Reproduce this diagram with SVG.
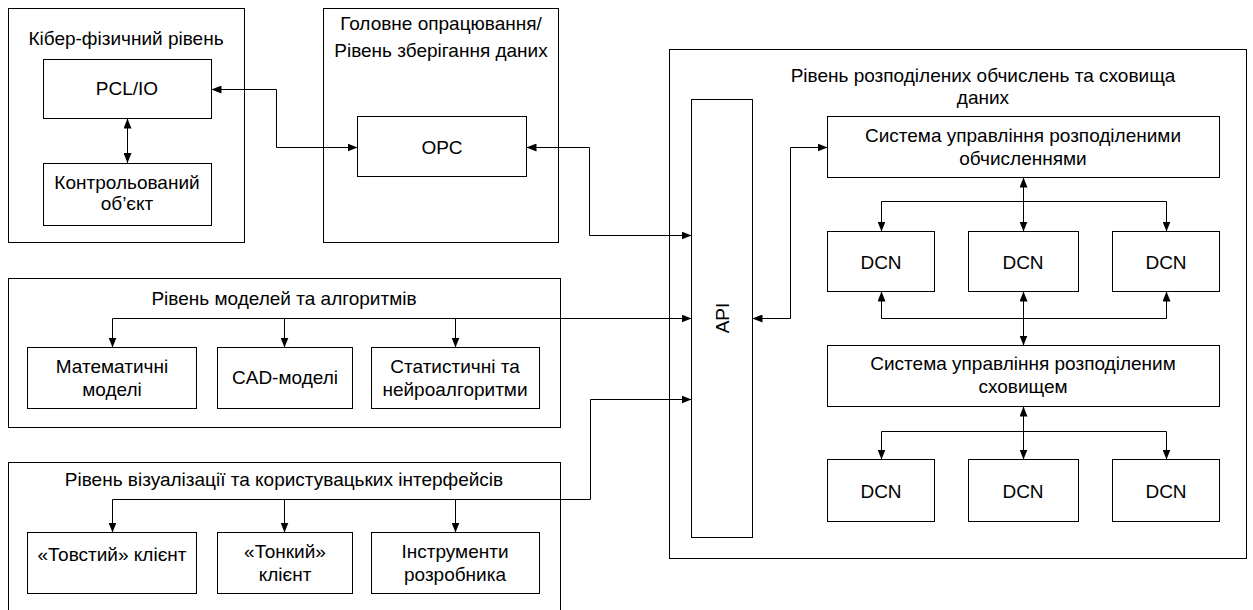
<svg xmlns="http://www.w3.org/2000/svg" width="1253" height="610" viewBox="0 0 1253 610">
  <style>
    .box { fill: #ffffff; stroke: #000000; stroke-width: 1; }
    .lbl { font-family: "Liberation Sans", Arial, sans-serif; font-size: 19px; fill: #000000; text-anchor: middle; }
    .wire { fill: none; stroke: #000000; stroke-width: 1; }
    .dbl { marker-start: url(#ah); marker-end: url(#ah); }
    .one { marker-end: url(#ah); }
  </style>
  <defs>
    <marker id="ah" markerUnits="userSpaceOnUse" markerWidth="10" markerHeight="8" refX="10" refY="4" orient="auto-start-reverse">
      <path d="M0,0 L10,4 L0,8 z" fill="#000000"/>
    </marker>
  </defs>
  <rect width="1253" height="610" fill="#ffffff"/>

  <!-- Cyber-physical layer -->
  <g id="cyber-physical-layer">
    <rect class="box" x="8.5" y="8.5" width="236" height="234"/>
    <text class="lbl" x="126" y="45">Кібер-фізичний рівень</text>
  </g>
  <g id="pcl-io">
    <rect class="box" x="43.5" y="59.5" width="168" height="59"/>
    <text class="lbl" x="127" y="95">PCL/IO</text>
  </g>
  <g id="controlled-object">
    <rect class="box" x="43.5" y="163.5" width="168" height="62"/>
    <text class="lbl" x="127" y="189">Контрольований</text>
    <text class="lbl" x="127" y="210">об’єкт</text>
  </g>

  <!-- Main processing / data storage layer -->
  <g id="processing-layer">
    <rect class="box" x="323.5" y="8.5" width="235" height="234"/>
    <text class="lbl" x="441" y="30">Головне опрацювання/</text>
    <text class="lbl" x="441" y="57">Рівень зберігання даних</text>
  </g>
  <g id="opc">
    <rect class="box" x="357.5" y="116.5" width="169" height="60"/>
    <text class="lbl" x="442" y="154">OPC</text>
  </g>

  <!-- Distributed computing and storage layer -->
  <g id="distributed-layer">
    <rect class="box" x="669.5" y="49.5" width="577" height="509"/>
    <text class="lbl" x="983" y="82">Рівень розподілених обчислень та сховища</text>
    <text class="lbl" x="983" y="104">даних</text>
  </g>
  <g id="api">
    <rect class="box" x="691.5" y="99.5" width="61" height="438"/>
    <text class="lbl" transform="translate(729 318) rotate(-90)" x="0" y="0">API</text>
  </g>
  <g id="compute-manager">
    <rect class="box" x="827.5" y="116.5" width="392" height="61"/>
    <text class="lbl" x="1023" y="142">Система управління розподіленими</text>
    <text class="lbl" x="1023" y="165">обчисленнями</text>
  </g>
  <g id="dcn-1">
    <rect class="box" x="827.5" y="231.5" width="107" height="60"/>
    <text class="lbl" x="881" y="269">DCN</text>
  </g>
  <g id="dcn-2">
    <rect class="box" x="968.5" y="231.5" width="110" height="60"/>
    <text class="lbl" x="1023" y="269">DCN</text>
  </g>
  <g id="dcn-3">
    <rect class="box" x="1112.5" y="231.5" width="107" height="60"/>
    <text class="lbl" x="1166" y="269">DCN</text>
  </g>
  <g id="storage-manager">
    <rect class="box" x="827.5" y="345.5" width="392" height="61"/>
    <text class="lbl" x="1023" y="370">Система управління розподіленим</text>
    <text class="lbl" x="1023" y="393">сховищем</text>
  </g>
  <g id="dcn-4">
    <rect class="box" x="827.5" y="459.5" width="107" height="62"/>
    <text class="lbl" x="881" y="498">DCN</text>
  </g>
  <g id="dcn-5">
    <rect class="box" x="968.5" y="459.5" width="110" height="62"/>
    <text class="lbl" x="1023" y="498">DCN</text>
  </g>
  <g id="dcn-6">
    <rect class="box" x="1112.5" y="459.5" width="107" height="62"/>
    <text class="lbl" x="1166" y="498">DCN</text>
  </g>

  <!-- Models and algorithms layer -->
  <g id="models-layer">
    <rect class="box" x="8.5" y="278.5" width="552" height="149"/>
    <text class="lbl" x="284" y="305">Рівень моделей та алгоритмів</text>
  </g>
  <g id="math-models">
    <rect class="box" x="27.5" y="347.5" width="169" height="61"/>
    <text class="lbl" x="112" y="373">Математичні</text>
    <text class="lbl" x="112" y="396">моделі</text>
  </g>
  <g id="cad-models">
    <rect class="box" x="217.5" y="347.5" width="135" height="61"/>
    <text class="lbl" x="285" y="384">CAD-моделі</text>
  </g>
  <g id="stat-algorithms">
    <rect class="box" x="371.5" y="347.5" width="168" height="61"/>
    <text class="lbl" x="455" y="373">Статистичні та</text>
    <text class="lbl" x="455" y="396">нейроалгоритми</text>
  </g>

  <!-- Visualisation and user interface layer -->
  <g id="ui-layer">
    <rect class="box" x="8.5" y="462.5" width="552" height="160"/>
    <text class="lbl" x="284" y="486">Рівень візуалізації та користувацьких інтерфейсів</text>
  </g>
  <g id="thick-client">
    <rect class="box" x="27.5" y="532.5" width="169" height="61"/>
    <text class="lbl" x="112" y="561">«Товстий» клієнт</text>
  </g>
  <g id="thin-client">
    <rect class="box" x="217.5" y="532.5" width="135" height="61"/>
    <text class="lbl" x="285" y="558">«Тонкий»</text>
    <text class="lbl" x="285" y="581">клієнт</text>
  </g>
  <g id="dev-tools">
    <rect class="box" x="371.5" y="532.5" width="168" height="61"/>
    <text class="lbl" x="455" y="558">Інструменти</text>
    <text class="lbl" x="455" y="581">розробника</text>
  </g>

  <!-- Connectors -->
  <g id="connectors">
    <path class="wire dbl" d="M127.5,118.5 V163"/>
    <path class="wire dbl" d="M211.5,89.5 H276.5 V147.5 H357.5"/>
    <path class="wire dbl" d="M526.5,147.5 H589.5 V235.5 H691.5"/>
    <path class="wire dbl" d="M752.5,318.5 H790.5 V147.5 H827.5"/>

    <path class="wire dbl" d="M112.5,347.5 V318.5 H691.5"/>
    <path class="wire one" d="M284.5,318.5 V347.5"/>
    <path class="wire one" d="M455.5,318.5 V347.5"/>

    <path class="wire dbl" d="M112.5,532.5 V499.5 H590.5 V399.5 H691.5"/>
    <path class="wire one" d="M284.5,499.5 V532.5"/>
    <path class="wire one" d="M455.5,499.5 V532.5"/>

    <path class="wire dbl" d="M1023.5,177.5 V231.5"/>
    <path class="wire dbl" d="M881.5,231.5 V201.5 H1166.5 V231.5"/>
    <path class="wire dbl" d="M1023.5,291.5 V345.5"/>
    <path class="wire dbl" d="M881.5,291.5 V318.5 H1166.5 V291.5"/>
    <path class="wire dbl" d="M1023.5,406.5 V459.5"/>
    <path class="wire dbl" d="M881.5,459.5 V431.5 H1166.5 V459.5"/>
  </g>
</svg>
